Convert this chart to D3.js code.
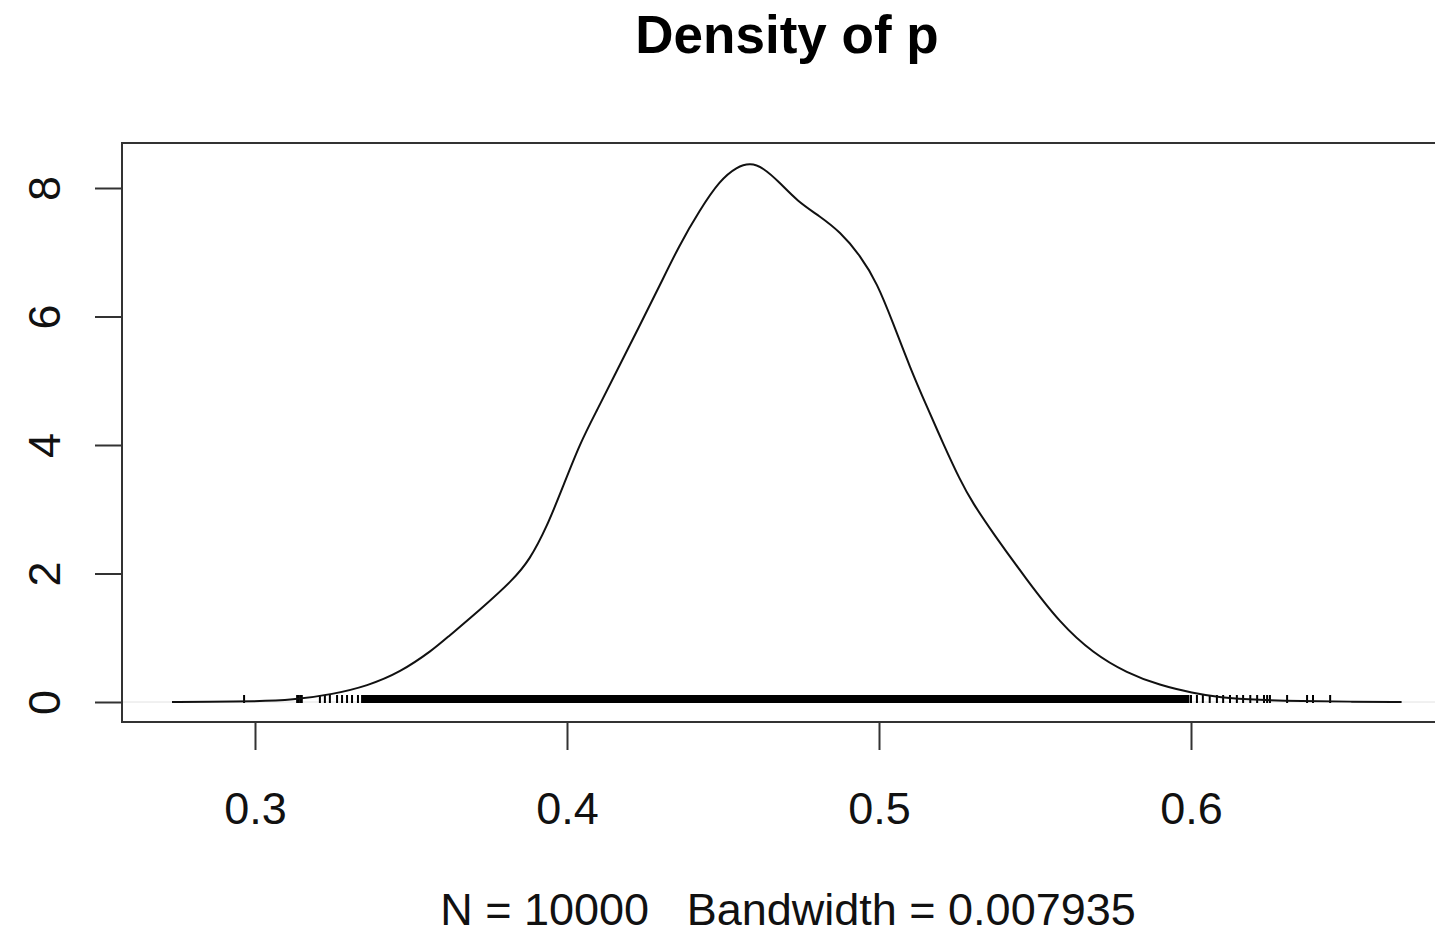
<!DOCTYPE html>
<html lang='en'>
  <head>
    <meta charset='utf-8'>
    <title>Density of p</title>
    <script type='text/javascript' src='https://cdn.jsdelivr.net/npm/d3@7'></script>

    <style type='text/css'>
      body {
        margin: 0;
        overflow: hidden;
        font-family: 'Liberation Sans', Arial, sans-serif;
        background-color: white;
      }

      svg {
        background-color: white;
      }
    </style>
  </head>

  <body>
    <div id='chart'></div>

    <script type='text/javascript'>

    // Data
    var densityX = [0.2734, 0.285, 0.300, 0.312, 0.325, 0.336, 0.3465, 0.357, 0.3615, 0.372,
                    0.3827, 0.388, 0.3935, 0.3987, 0.4042, 0.4096, 0.4147, 0.4234, 0.4298,
                    0.436, 0.4426, 0.449, 0.4545, 0.4587, 0.4628, 0.4683, 0.4737, 0.481, 0.4875,
                    0.494, 0.4994, 0.5045, 0.5099, 0.5154, 0.5205, 0.526, 0.530, 0.5365, 0.5474,
                    0.558, 0.5686, 0.5795, 0.590, 0.6006, 0.609, 0.622, 0.635, 0.651, 0.6675];
    var densityY = [0, 0.002, 0.01, 0.03, 0.12, 0.25, 0.46, 0.81, 1.0, 1.43,
                    1.90, 2.21, 2.72, 3.35, 4.03, 4.54, 5.03, 5.87, 6.49,
                    7.11, 7.66, 8.12, 8.33, 8.39, 8.32, 8.08, 7.80, 7.56, 7.32,
                    6.95, 6.52, 5.90, 5.21, 4.59, 4.03, 3.45, 3.10, 2.63, 1.90,
                    1.23, 0.76, 0.45, 0.26, 0.14, 0.07, 0.03, 0.015, 0.005, 0];

    // rug: the dense middle is one solid band, the tails are single marks
    var rugBand = [0.334, 0.5995];
    var rugLeft = [0.2965, 0.3135, 0.314, 0.3145, 0.315, 0.3208, 0.3224, 0.324,
                   0.3263, 0.3279, 0.3295, 0.3311, 0.333];
    var rugRight = [0.5987, 0.6, 0.6019, 0.6038, 0.606, 0.6083, 0.6103, 0.6125, 0.6147,
                    0.6167, 0.619, 0.6212, 0.6234, 0.6244, 0.6253, 0.6308, 0.6372, 0.6391, 0.6446];

    var xTicks = [0.3, 0.4, 0.5, 0.6];
    var yTicks = [0, 2, 4, 6, 8];

    var titleText = 'Density of p';
    var subText = 'N = 10000   Bandwidth = 0.007935';

    // Dimensions (plot box runs past the right edge of the window)
    var margin = { top: 143, right: 0, bottom: 214, left: 122 },
        boxRight = 1452,
        W = 1435, H = 936;

    var svg = d3.select('#chart')
        .append('svg')
        .attr('width', W)
        .attr('height', H);

    // Scales
    var xScale = d3.scaleLinear()
        .domain([0.3, 0.6])
        .range([255, 1191]);

    var yScale = d3.scaleLinear()
        .domain([0, 8])
        .range([702, 188]);

    var points = densityX.map(function(x, i) { return [x, densityY[i]]; });

    // faint zero line
    svg.append('line')
        .attr('x1', margin.left).attr('x2', boxRight)
        .attr('y1', yScale(0)).attr('y2', yScale(0))
        .attr('stroke', '#e2e2e2')
        .attr('stroke-width', 1);

    // rug
    var rugTop = yScale(0) - 7, rugBottom = yScale(0) + 1;
    svg.append('rect')
        .attr('x', xScale(rugBand[0]))
        .attr('y', rugTop)
        .attr('width', xScale(rugBand[1]) - xScale(rugBand[0]))
        .attr('height', rugBottom - rugTop)
        .attr('fill', '#000');

    svg.append('g').selectAll('line')
        .data(rugLeft.concat(rugRight))
        .enter()
        .append('line')
        .attr('x1', function(d) { return xScale(d); })
        .attr('x2', function(d) { return xScale(d); })
        .attr('y1', rugTop)
        .attr('y2', rugBottom)
        .attr('stroke', '#000')
        .attr('stroke-width', 2);

    // density curve
    var line = d3.line()
        .x(function(d) { return xScale(d[0]); })
        .y(function(d) { return yScale(d[1]); })
        .curve(d3.curveBasis);

    svg.append('path')
        .datum(points)
        .attr('d', line)
        .attr('fill', 'none')
        .attr('stroke', '#111')
        .attr('stroke-width', 2);

    // box
    svg.append('rect')
        .attr('x', margin.left)
        .attr('y', margin.top)
        .attr('width', boxRight - margin.left)
        .attr('height', 722 - margin.top)
        .attr('fill', 'none')
        .attr('stroke', '#333')
        .attr('stroke-width', 2);

    // Axis
    var xAxis = d3.axisBottom(xScale)
        .tickValues(xTicks)
        .tickSize(28)
        .tickPadding(42)
        .tickFormat(d3.format('.1f'));

    var gx = svg.append('g')
        .attr('transform', 'translate(0,722)')
        .call(xAxis);
    gx.select('.domain').remove();
    gx.selectAll('line').attr('stroke', '#333').attr('stroke-width', 2);
    gx.selectAll('text')
        .attr('fill', '#111')
        .style('font-family', "'Liberation Sans', Arial, sans-serif")
        .style('font-size', '45px');

    var yAxis = d3.axisLeft(yScale)
        .tickValues(yTicks)
        .tickSize(27)
        .tickFormat(d3.format('d'));

    var gy = svg.append('g')
        .attr('transform', 'translate(' + margin.left + ',0)')
        .call(yAxis);
    gy.select('.domain').remove();
    gy.selectAll('line').attr('stroke', '#333').attr('stroke-width', 2);
    gy.selectAll('text')
        .attr('x', null).attr('dy', null)
        .attr('transform', 'translate(-62,0) rotate(-90)')
        .attr('text-anchor', 'middle')
        .attr('fill', '#111')
        .style('font-family', "'Liberation Sans', Arial, sans-serif")
        .style('font-size', '45px');

    // Titles
    svg.append('text')
        .attr('x', (margin.left + boxRight) / 2)
        .attr('y', 53)
        .attr('text-anchor', 'middle')
        .style('font-weight', 'bold')
        .style('font-size', '53px')
        .attr('fill', '#000')
        .text(titleText);

    svg.append('text')
        .attr('x', 788)
        .attr('y', 925)
        .attr('text-anchor', 'middle')
        .style('font-size', '45px')
        .style('white-space', 'pre')
        .attr('fill', '#111')
        .text(subText);

    </script>
  </body>
</html>
